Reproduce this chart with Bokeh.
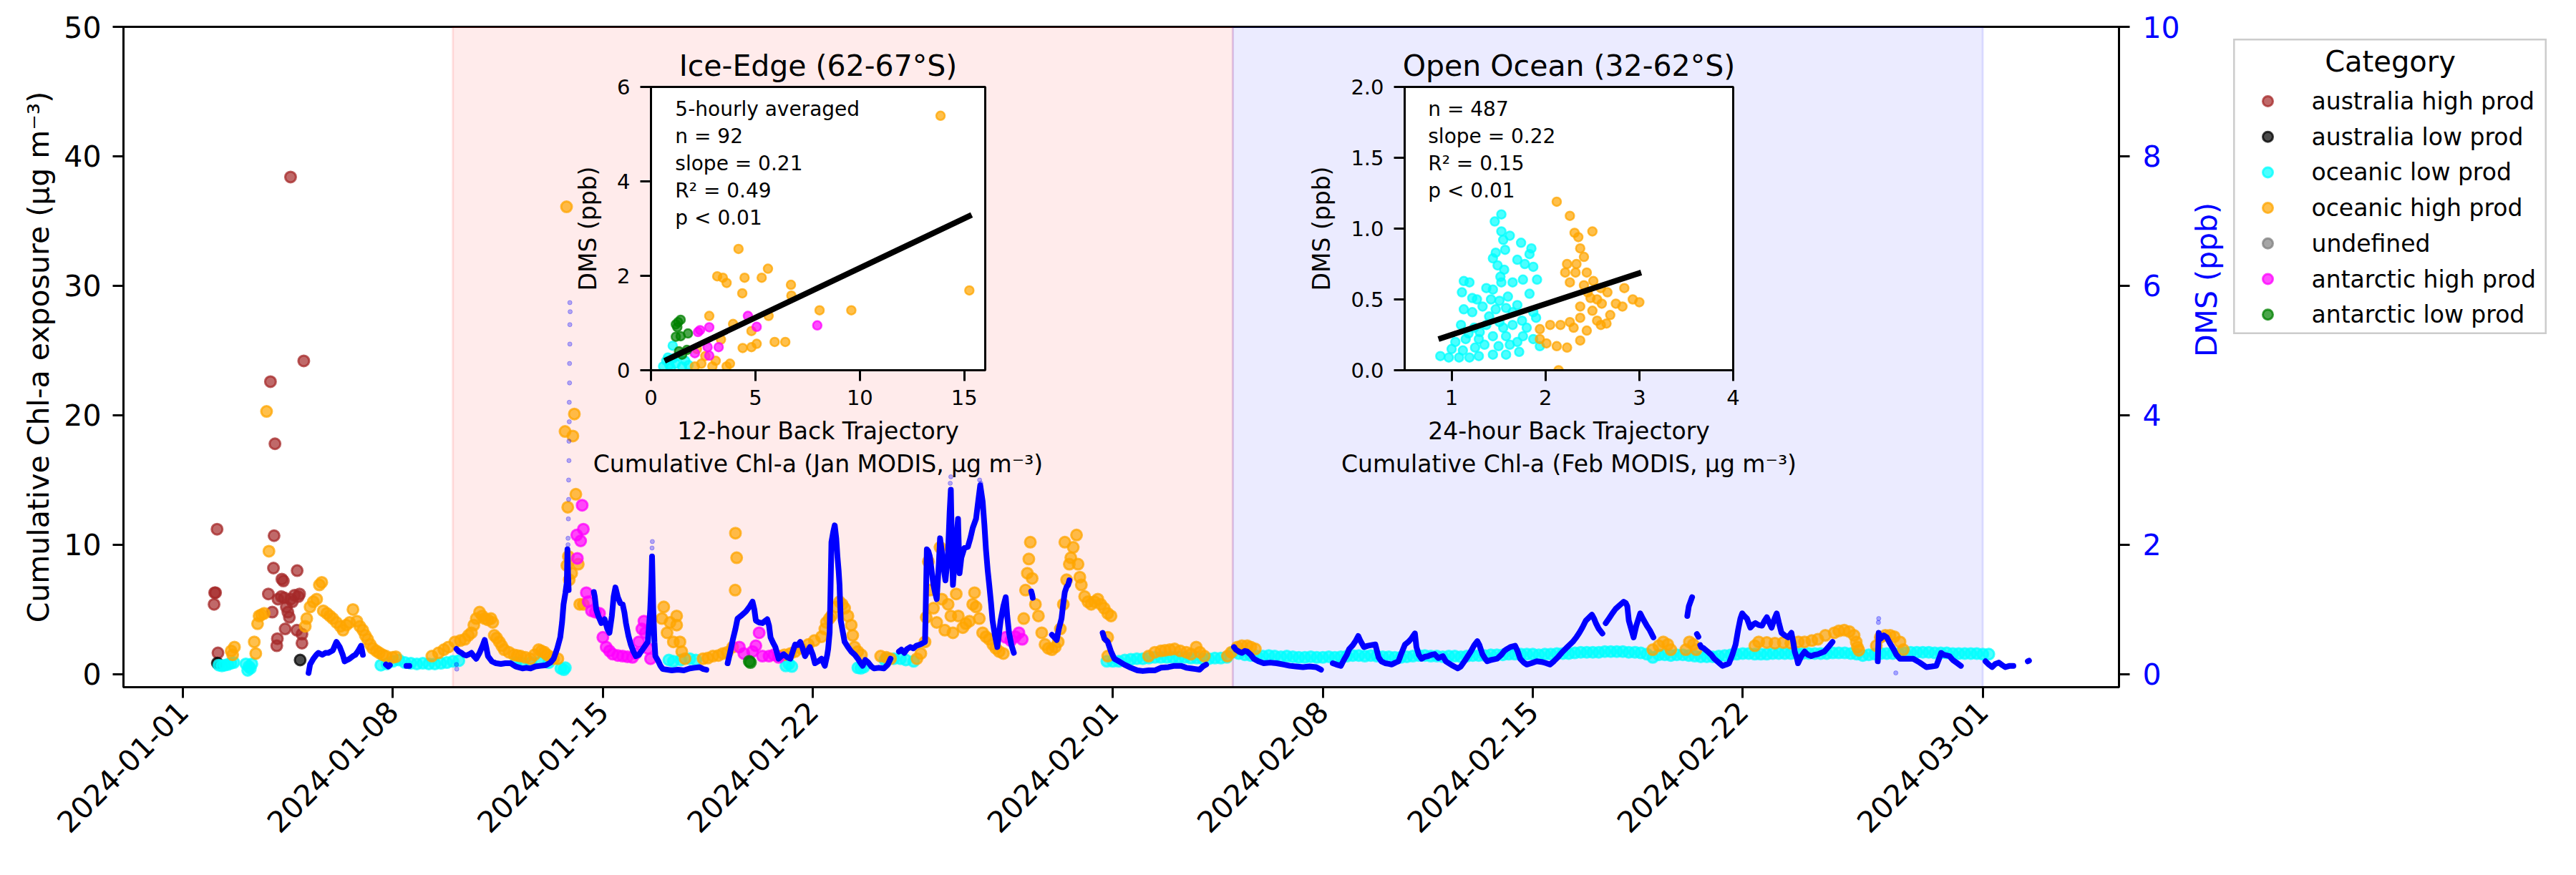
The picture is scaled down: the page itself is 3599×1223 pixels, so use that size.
import math
import numpy as np
import pandas as pd
from bokeh.plotting import figure
from bokeh.core.properties import value
from bokeh.models import (Range1d, LinearAxis, FixedTicker, DatetimeTickFormatter,
                          BoxAnnotation, GridBox, Label, NumeralTickFormatter)
from bokeh.embed import file_html
from bokeh.resources import INLINE

FONT = "DejaVu Sans"
START = "2024-01-01"

# ---------------- data ----------------
tick_dates = ["2024-01-01", "2024-01-08", "2024-01-15", "2024-01-22", "2024-02-01",
              "2024-02-08", "2024-02-15", "2024-02-22", "2024-03-01"]
chl_ticks = [0, 10, 20, 30, 40, 50]
dms_ticks = [0, 2, 4, 6, 8, 10]

region_names = ["Ice-Edge (62-67°S)", "Open Ocean (32-62°S)"]
region_start = ["2024-01-10", "2024-02-05"]
region_end = ["2024-02-05", "2024-03-01"]
region_colors = ["red", "blue"]

categories = ["australia high prod", "australia low prod", "oceanic low prod",
              "oceanic high prod", "undefined", "antarctic high prod", "antarctic low prod"]
cat_colors = ["brown", "black", "cyan", "orange", "gray", "magenta", "green"]

# days since 2024-01-01 00:00 ; cumulative Chl-a exposure (ug m-3)
aus_high_day = [1.04, 1.06, 1.09, 1.14, 1.17, 2.85, 2.92, 2.98, 3.02, 3.04, 3.07, 3.13, 3.15, 3.17,
                3.28, 3.30, 3.35, 3.38, 3.41, 3.45, 3.50, 3.55, 3.59, 3.60, 3.65, 3.72, 3.80, 3.81,
                3.85, 3.89, 3.97, 3.97, 4.03]
aus_high_chl = [5.4, 6.3, 6.3, 11.2, 1.65, 6.2, 22.6, 4.8, 8.2, 10.7, 17.8, 2.2, 2.75, 5.8,
                6.0, 7.35, 7.2, 5.9, 3.5, 5.2, 4.8, 4.4, 38.4, 5.8, 5.6, 6.1, 3.4, 8.0,
                6.0, 6.2, 3.1, 2.4, 24.2]
aus_low_day = [1.15, 3.91]
aus_low_chl = [0.86, 1.1]
oce_low_day = [1.2, 1.3, 1.4, 1.5, 1.6, 1.7, 2.1, 2.16, 2.2, 2.25, 2.3,
               11.1, 11.3, 11.6, 11.9, 12.2, 12.6, 12.7, 12.75,
               16.2, 16.35, 16.6, 16.9, 17.1, 20.1, 20.2, 20.3, 22.5, 22.6, 22.7,
               23.4, 23.48, 23.7, 23.92, 24.1, 24.36]
oce_low_chl = [0.7, 0.65, 0.7, 0.75, 0.85, 0.9, 0.8, 0.3, 0.6, 0.45, 0.8,
               0.9, 0.85, 0.9, 0.95, 0.9, 0.45, 0.35, 0.5,
               1.1, 1.0, 1.1, 1.2, 1.1, 0.64, 0.8, 0.6, 0.5, 0.46, 0.55,
               1.1, 1.2, 1.2, 1.2, 1.1, 1.0]
# continuous oceanic-low-prod stretches, sampled every 0.2 day from the given start day
oce_low_run1_start = 6.6
oce_low_run1_chl = [0.7, 0.8, 1.0, 1.1, 0.9, 0.85, 0.8, 0.85, 0.8, 0.8, 0.85, 0.9, 1.0, 1.05]
oce_low_run2_start = 30.8
oce_low_run2_chl = [1.0, 1.0, 1.0, 1.1, 1.15, 1.2, 1.2, 1.25, 1.3, 1.3, 1.3, 1.3, 1.3, 1.3, 1.25, 1.25,
                    1.2, 1.2, 1.25, 1.25, 1.3, 1.7, 1.6, 1.5, 1.45, 1.4, 1.4, 1.45, 1.4, 1.35,
                    1.4, 1.35, 1.3, 1.3, 1.35, 1.3, 1.3, 1.35, 1.3, 1.35, 1.4, 1.45, 1.45, 1.4,
                    1.45, 1.4, 1.35, 1.35, 1.3, 1.3, 1.35, 1.4, 1.45, 1.45, 1.4, 1.4, 1.35, 1.4,
                    1.4, 1.35, 1.4, 1.45, 1.45, 1.45, 1.5, 1.5, 1.5, 1.55, 1.55, 1.55, 1.55, 1.55,
                    1.5, 1.55, 1.55, 1.6, 1.6, 1.6, 1.65, 1.7, 1.7, 1.7, 1.7, 1.75, 1.75, 1.75,
                    1.75, 1.7, 1.7, 1.65, 1.55, 1.3, 1.5, 1.5, 1.45, 1.5, 1.5, 1.45, 1.4, 1.35,
                    1.35, 1.35, 1.4, 1.45, 1.5, 1.55, 1.6, 1.6, 1.55, 1.55, 1.55, 1.6, 1.6, 1.6,
                    1.6, 1.6, 1.6, 1.6, 1.6, 1.6, 1.6, 1.65, 1.65, 1.65, 1.6, 1.55, 1.45, 1.5,
                    1.55, 1.6, 1.6, 1.6, 1.6, 1.65, 1.7, 1.7, 1.7, 1.7, 1.65, 1.65, 1.65, 1.6,
                    1.6, 1.6, 1.6, 1.6, 1.55, 1.55]
oce_high_day = [1.61, 1.66, 1.72, 2.38, 2.43, 2.49, 2.54, 2.62, 2.71, 2.79, 2.87,
                4.08, 4.13, 4.24, 4.35, 4.46, 4.55, 4.63, 4.68, 4.8, 4.9, 5.0, 5.12, 5.25, 5.34,
                5.45, 5.56, 5.67, 5.8, 5.9, 6.0, 6.08, 6.16, 6.25, 6.33, 6.45, 6.55, 6.66, 6.77,
                6.99, 7.1,
                8.3, 8.52, 8.7, 8.85, 9.07, 9.25, 9.4, 9.52, 9.62, 9.7, 9.78, 9.89, 9.98, 10.06,
                10.17, 10.27, 10.33, 10.38, 10.46, 10.55, 10.63, 10.71, 10.87, 11.04, 11.15, 11.26,
                11.42, 11.59, 11.72, 11.86, 11.95, 12.05, 12.14, 12.25, 12.36, 12.5,
                12.74, 12.79, 12.8, 12.83, 12.85, 12.88, 12.96, 13.0, 13.05, 13.1, 13.18, 13.23, 13.35,
                15.97, 16.03, 16.14, 16.24, 16.35, 16.46, 16.46, 16.57, 16.63, 16.74,
                17.34, 17.5, 17.67, 17.85, 18.0, 18.15, 18.33, 18.41, 18.42, 18.46,
                19.86, 20.05, 20.25, 20.41, 20.6, 20.85, 21.05, 21.29, 21.4, 21.45, 21.55, 21.62,
                21.78, 21.89, 21.98, 22.06, 22.17, 22.28, 22.33, 22.39, 22.5, 22.62,
                23.26, 23.45, 23.59, 24.47, 24.6, 24.74, 24.78, 24.85, 24.9, 25.02, 25.13, 25.24,
                25.3, 25.4, 25.51, 25.6, 25.67, 25.78, 25.85, 26.0, 26.1, 26.22, 26.33, 26.39,
                26.44, 26.55, 26.66, 26.77, 26.88, 27.0, 27.1, 27.21, 27.35,
                28.03, 28.09, 28.15, 28.2, 28.25, 28.31, 28.42, 28.52, 28.63, 28.74, 28.85, 28.97,
                29.08, 29.18, 29.25, 29.35, 29.4, 29.46, 29.55, 29.6, 29.68, 29.79, 29.84, 29.9,
                29.95, 30.06, 30.17, 30.28, 30.39, 30.5, 30.6, 30.71, 30.83, 30.94, 30.83, 30.83,
                32.19, 32.4, 32.6, 32.74, 32.9, 33.06, 33.25, 33.45, 33.61, 33.78, 33.9, 34.05,
                34.82, 34.95, 35.15, 35.3, 35.48, 35.6, 35.75,
                49.0, 49.2, 49.35, 49.5, 49.6, 50.1, 50.22, 50.35, 50.45,
                52.4, 52.53, 52.8, 53.07, 53.35, 53.6, 53.85, 54.06, 54.3, 54.5, 54.75, 55.05,
                55.2, 55.38, 55.55, 55.71, 55.78, 55.82, 55.87,
                56.45, 56.58, 56.75, 56.91, 57.05, 57.24, 57.35]
oce_high_chl = [1.8, 1.5, 2.1, 2.5, 1.6, 3.9, 4.5, 4.6, 4.7, 20.3, 9.5,
                3.7, 4.3, 5.2, 5.6, 5.8, 6.9, 7.1, 4.9, 4.7, 4.5, 4.3, 4.0, 3.7, 3.4,
                3.8, 4.0, 5.0, 4.1, 3.7, 3.4, 3.0, 2.7, 2.3, 2.0, 1.8, 1.65, 1.5, 1.4,
                1.3, 1.35,
                1.4, 1.65, 1.9, 2.1, 2.5, 2.6, 2.7, 3.0, 3.2, 3.8, 4.3, 4.8, 4.5, 4.3,
                4.2, 4.3, 4.0, 3.0, 2.8, 2.5, 2.2, 1.9, 1.7, 1.5, 1.45, 1.4,
                1.3, 1.2, 1.5, 1.9, 1.8, 1.7, 1.5, 1.35, 1.2, 1.2,
                18.75, 36.1, 8.4, 12.9, 9.1, 7.3, 7.8, 18.4, 20.1, 13.9, 8.5, 5.4, 5.4,
                4.3, 5.2, 3.2, 4.0, 2.5, 4.5, 3.8, 2.5, 1.75, 1.2,
                1.2, 1.25, 1.4, 1.45, 1.6, 1.7, 2.1, 6.5, 10.9, 9.0,
                1.4, 1.5, 1.6, 1.75, 2.0, 2.3, 2.6, 2.9, 3.5, 4.0, 4.3, 4.5,
                5.2, 5.6, 5.4, 5.1, 4.5, 3.8, 3.0, 2.1, 1.75, 1.5,
                1.4, 1.3, 1.2, 1.2, 1.6, 2.5, 4.4, 8.7, 6.5, 5.1, 4.0, 9.8,
                5.8, 3.4, 5.4, 4.5, 3.2, 6.2, 4.5, 3.6, 3.9, 4.1, 5.4, 6.3,
                5.2, 4.3, 3.2, 2.9, 2.7, 2.3, 2.0, 1.75, 1.6,
                4.3, 6.5, 7.8, 8.9, 10.2, 7.4, 5.4, 4.5, 3.2, 2.3, 2.0, 1.9,
                2.1, 2.5, 3.5, 5.4, 10.2, 7.3, 8.5, 9.0, 9.8, 10.75, 8.5, 7.5,
                6.9, 6.0, 5.6, 5.4, 5.6, 5.8, 5.4, 5.1, 4.7, 4.5, 2.85, 1.4,
                1.4, 1.7, 1.8, 1.85, 1.9, 1.95, 1.8, 1.7, 1.55, 2.1, 1.7, 1.4,
                1.4, 1.7, 2.1, 2.2, 2.2, 2.1, 1.95,
                1.9, 2.2, 2.5, 2.3, 1.9, 1.9, 2.5, 2.3, 1.9,
                2.2, 2.5, 2.45, 2.4, 2.45, 2.4, 2.5, 2.5, 2.6, 2.7, 3.0, 3.2,
                3.35, 3.4, 3.3, 3.0, 2.5, 2.1, 1.85,
                2.2, 2.85, 3.0, 3.0, 2.9, 2.5, 1.9]
undef_day = []
undef_chl = []
ant_high_day = [13.13, 13.15, 13.26, 13.31, 13.35, 13.45, 13.51, 13.62, 13.75, 13.89, 14.0, 14.11,
                14.22, 14.33, 14.5, 14.66, 14.82, 14.99, 15.1, 15.2, 15.3, 15.37, 15.42, 15.5, 15.59,
                18.55, 18.7, 18.99, 19.1, 19.21, 19.32, 19.54, 19.7, 19.86,
                27.43, 27.6, 27.75, 27.87, 27.98]
ant_high_chl = [10.75, 8.95, 10.3, 13.05, 11.2, 6.3, 5.6, 4.9, 4.8, 4.7, 2.85, 2.1,
                1.8, 1.55, 1.45, 1.4, 1.35, 1.3, 1.6, 2.5, 3.5, 4.1, 3.2, 2.0, 1.2,
                2.1, 1.6, 1.75, 2.2, 3.2, 1.4, 1.4, 1.5, 1.3,
                2.85, 2.6, 2.9, 3.2, 2.7]
ant_low_day = [18.88, 18.92]
ant_low_chl = [1.0, 0.9]

# DMS (ppb); None marks a gap in the record
dms_day = [4.19, 4.24, 4.35, 4.45, 4.52, 4.65, 4.75, 4.85, 5.0, 5.12, 5.23, 5.33, 5.39, 5.48, 5.56,
           5.67, 5.75, 5.83, 5.94, 6.0, None,
           6.77, 6.85, 6.9, None, 7.45, 7.55, None,
           9.12, 9.2, 9.29, 9.37, 9.45, 9.55, 9.62, 9.7, 9.78, 9.89, 10.0, 10.06, 10.12, 10.17, 10.3,
           10.44, 10.6, 10.75, 10.93, 11.1, 11.32, 11.45, 11.59, 11.75, 11.92, 12.1, 12.25, 12.36,
           12.48, 12.58, 12.64, 12.69, 12.75, 12.8, 12.82, 12.84, 12.86, None,
           13.7, 13.73, 13.78, 13.85, 13.95, 14.06, 14.15, 14.22, 14.3, 14.36, 14.42, 14.5, 14.58,
           14.66, 14.72, 14.77, 14.85, 14.93, 15.02, 15.1, 15.2, 15.35, 15.5, 15.58, 15.62, 15.64,
           15.68, 15.72, 15.75, 15.85, 15.92, 16.0, 16.3, 16.5, 16.7, 16.9, 17.05, 17.23, 17.35,
           17.45, None,
           18.16, 18.25, 18.33, 18.42, 18.49, 18.6, 18.77, 18.9, 18.99, 19.05, 19.1, 19.2, 19.32,
           19.4, 19.48, 19.54, 19.59, 19.68, 19.75, 19.86, 19.95, 20.03, 20.15, 20.25, 20.33, 20.41,
           20.5, 20.58, 20.66, 20.74, 20.82, 20.9, 21.0, 21.07, 21.18, 21.29, 21.4, 21.48, 21.51,
           21.56, 21.59, 21.62, 21.68, 21.73, 21.78, 21.82, 21.86, 21.89, 21.91, 21.93, 22.0, 22.06,
           22.17, 22.28, 22.4, 22.5, 22.58, 22.66, 22.75, 22.85, 22.95, 23.04, 23.2, 23.37, 23.5,
           23.59, None,
           23.87, 23.95, 24.05, 24.14, 24.25, 24.35, 24.45, 24.58, 24.66, 24.74, 24.77, 24.8, 24.85,
           24.9, 24.96, 25.02, 25.08, 25.13, 25.2, 25.24, 25.3, 25.35, 25.42, 25.5, 25.56, 25.6,
           25.63, 25.67, 25.75, 25.84, 25.89, 25.95, 26.05, 26.17, 26.25, 26.33, 26.44, 26.52, 26.58,
           26.66, 26.72, 26.77, 26.83, 26.88, 26.94, 26.99, 27.07, 27.15, 27.2, 27.26, 27.35, 27.43,
           27.48, 27.54, 27.62, 27.7, None,
           28.28, 28.31, 28.33, None,
           28.97, 29.05, 29.13, 29.2, 29.29, 29.35, 29.4, 29.46, 29.51, 29.55, None,
           30.66, 30.72, 30.83, 30.94, 31.05, 31.2, 31.38, 31.6, 31.82, 32.0, 32.2, 32.41, 32.6,
           32.85, 33.05, 33.28, 33.45, 33.61, 33.75, 33.89, 34.0, 34.11, None,
           35.04, 35.1, 35.2, 35.3, 35.4, 35.48, 35.6, 35.7, 35.85, 36.03, 36.25, 36.46, 36.7, 36.9,
           37.1, 37.34, 37.55, 37.78, 37.94, None,
           38.33, 38.45, 38.6, 38.7, 38.8, 38.88, 39.0, 39.1, 39.18, 39.25, 39.37, 39.5, 39.62,
           39.75, 39.86, 39.95, 40.08, 40.2, 40.3, 40.42, 40.52, 40.6, 40.74, 40.85, 40.95, 41.07,
           41.12, 41.2, 41.29, 41.4, 41.51, 41.62, 41.73, 41.85, 42.0, 42.1, 42.3, 42.5, 42.6,
           42.75, 42.93, 43.05, 43.15, 43.22, 43.32, 43.4, 43.48, 43.6, 43.7, 43.81, 43.95, 44.05,
           44.14, 44.25, 44.41, 44.5, 44.58, 44.7, 44.8, 44.95, 45.13, 45.3, 45.45, 45.57, 45.7,
           45.85, 46.0, 46.15, 46.33, 46.45, 46.55, 46.65, 46.77, 46.88, 46.97, 47.05, 47.1, 47.2,
           47.32, None,
           47.43, 47.55, 47.65, 47.76, 47.88, 48.03, 48.1, 48.15, 48.2, 48.28, 48.36, 48.45, 48.58,
           48.68, 48.8, 48.9, 49.02, None,
           50.11, None, 50.15, 50.2, 50.31, None, 50.47, 50.52, None,
           50.58, 50.61, 50.7, 50.83, 50.95, 51.05, 51.2, 51.32, 51.45, 51.54, 51.65, 51.76, 51.85,
           51.92, 51.98, 52.05, 52.14, 52.25, 52.35, 52.42, 52.53, 52.64, 52.72, 52.8, 52.88, 52.96,
           53.05, 53.13, 53.2, 53.29, 53.4, 53.51, 53.62, 53.68, 53.73, 53.8, 53.84, 53.95, 54.06,
           54.17, 54.28, 54.39, 54.5, 54.61, 54.72, 54.85, 54.99, None,
           56.5, 56.53, 56.6, 56.7, 56.8, 56.9, 57.02, 57.12, 57.24, 57.45, 57.68, 57.9, 58.12,
           58.3, 58.45, 58.55, 58.61, 58.7, 58.8, 58.89, 59.0, 59.15, 59.27, None,
           60.09, 60.2, 60.31, 60.42, 60.53, 60.65, 60.75, 60.9, 61.02, None, 61.5, 61.54]
dms_ppb = [0.02, 0.15, 0.24, 0.3, 0.33, 0.3, 0.33, 0.33, 0.37, 0.5, 0.42, 0.3, 0.2, 0.22, 0.24,
           0.28, 0.3, 0.35, 0.44, 0.3, None,
           0.15, 0.12, 0.14, None, 0.13, 0.13, None,
           0.39, 0.35, 0.33, 0.3, 0.29, 0.31, 0.33, 0.28, 0.24, 0.33, 0.45, 0.53, 0.4, 0.28, 0.2,
           0.17, 0.16, 0.17, 0.17, 0.12, 0.09, 0.1, 0.09, 0.12, 0.13, 0.14, 0.18, 0.24,
           0.4, 0.57, 0.8, 1.08, 1.25, 1.42, 1.93, 1.55, 1.3, None,
           1.27, 1.2, 1.0, 0.9, 0.79, 0.85, 0.7, 0.64, 0.9, 1.2, 1.34, 1.19, 1.1,
           1.08, 0.95, 0.79, 0.6, 0.46, 0.35, 0.28, 0.3, 0.4, 0.5, 1.0, 1.45, 1.82,
           1.0, 0.5, 0.28, 0.2, 0.13, 0.08, 0.06, 0.07, 0.06, 0.09, 0.1, 0.11, 0.08,
           0.07, None,
           0.17, 0.35, 0.53, 0.7, 0.86, 0.9, 0.97, 1.05, 1.12, 1.0, 0.83, 0.8, 0.79,
           0.82, 0.85, 0.75, 0.57, 0.48, 0.42, 0.24, 0.28, 0.31, 0.26, 0.24, 0.35, 0.46,
           0.45, 0.5, 0.4, 0.28, 0.35, 0.42, 0.3, 0.17, 0.2, 0.24, 0.13, 0.3, 0.39,
           0.64, 1.3, 2.04, 2.2, 2.3, 2.1, 1.82, 1.6, 1.38, 1.1, 0.83, 0.65, 0.5,
           0.42, 0.35, 0.3, 0.24, 0.18, 0.13, 0.22, 0.18, 0.12, 0.09, 0.1, 0.09, 0.15,
           0.24, None,
           0.35, 0.38, 0.33, 0.39, 0.42, 0.4, 0.44, 0.46, 0.48, 0.5, 1.2, 1.93, 1.9,
           1.82, 1.6, 1.38, 1.25, 1.16, 1.7, 2.1, 1.9, 1.67, 1.45, 1.8, 2.5, 2.85,
           2.1, 1.38, 1.9, 2.4, 1.56, 1.8, 1.95, 1.97, 2.1, 2.26, 2.4, 2.7, 2.92,
           2.67, 2.3, 1.93, 1.6, 1.38, 1.1, 0.83, 0.6, 0.42, 0.6, 0.83, 1.05, 1.19,
           0.9, 0.64, 0.45, 0.33, None,
           1.28, 1.23, 1.18, None,
           0.61, 0.57, 0.53, 0.7, 0.86, 1.1, 1.27, 1.35, 1.38, 1.45, None,
           0.64, 0.55, 0.5, 0.35, 0.24, 0.2, 0.15, 0.1, 0.06, 0.05, 0.06, 0.06, 0.1,
           0.11, 0.13, 0.13, 0.1, 0.09, 0.08, 0.07, 0.12, 0.15, None,
           0.42, 0.38, 0.35, 0.33, 0.36, 0.35, 0.3, 0.24, 0.2, 0.17, 0.18, 0.17, 0.15, 0.13,
           0.12, 0.11, 0.12, 0.11, 0.07, None,
           0.17, 0.15, 0.13, 0.22, 0.3, 0.39, 0.45, 0.52, 0.59, 0.52, 0.42, 0.44, 0.45,
           0.46, 0.26, 0.2, 0.17, 0.16, 0.15, 0.18, 0.2, 0.3, 0.46, 0.5, 0.55, 0.63,
           0.42, 0.3, 0.24, 0.27, 0.28, 0.3, 0.31, 0.25, 0.28, 0.2, 0.14, 0.09, 0.12,
           0.22, 0.35, 0.45, 0.51, 0.45, 0.31, 0.25, 0.2, 0.22, 0.23, 0.24, 0.3, 0.36,
           0.39, 0.42, 0.44, 0.35, 0.24, 0.18, 0.15, 0.17, 0.2, 0.19, 0.17, 0.15, 0.2,
           0.27, 0.35, 0.42, 0.5, 0.57, 0.64, 0.72, 0.83, 0.88, 0.92, 0.85, 0.79, 0.7,
           0.63, None,
           0.79, 0.87, 0.94, 1.01, 1.06, 1.12, 1.1, 1.05, 0.83, 0.7, 0.57, 0.75, 0.94,
           0.85, 0.75, 0.68, 0.57, None,
           0.35, None, 0.9, 1.05, 1.19, None, 0.62, 0.58, None,
           0.45, 0.42, 0.4, 0.35, 0.3, 0.24, 0.18, 0.13, 0.15, 0.17, 0.3, 0.46, 0.7,
           0.86, 0.94, 0.9, 0.86, 0.72, 0.77, 0.79, 0.76, 0.75, 0.82, 0.88, 0.8, 0.72,
           0.85, 0.94, 0.8, 0.64, 0.6, 0.57, 0.64, 0.5, 0.35, 0.25, 0.17, 0.28, 0.35,
           0.3, 0.28, 0.3, 0.31, 0.33, 0.35, 0.42, 0.5, None,
           0.2, 0.64, 0.55, 0.6, 0.57, 0.48, 0.39, 0.3, 0.24, 0.24, 0.24, 0.18, 0.11,
           0.12, 0.13, 0.25, 0.33, 0.3, 0.29, 0.28, 0.22, 0.17, 0.13, None,
           0.2, 0.15, 0.11, 0.16, 0.18, 0.14, 0.11, 0.13, 0.13, None, 0.2, 0.21]
# sparse DMS readings during sharp spikes
dms_faint_day = [12.83, 12.84, 12.84, 12.85, 12.86, 12.86, 12.87, 12.87, 12.88, 12.88, 12.89, 12.89,
                 12.9, 12.9, 12.9, 12.91, 15.64, 15.65, 25.58, 25.6, 26.56, 26.6, 56.52, 56.53, 57.1,
                 9.12, 9.13]
dms_faint_ppb = [1.7, 2.0, 2.1, 2.4, 2.7, 3.0, 3.3, 3.6, 3.9, 4.2, 4.5, 4.8,
                 5.1, 5.4, 5.74, 5.6, 1.95, 2.05, 2.95, 3.05, 3.0, 2.95, 0.8, 0.86, 0.02,
                 0.15, 0.08]

# ---- inset 1: Ice-Edge, 12-h back trajectory Chl-a vs DMS ----
ie_cyan_x = [1.04, 0.81, 0.73, 0.88, 1.19, 1.49, 1.8, 0.58, 1.05, 1.64, 0.95, 1.3]
ie_cyan_y = [0.52, 0.27, 0.2, 0.11, 0.14, 0.08, 0.11, 0.08, 0.25, 0.2, 0.05, 0.3]
ie_orange_x = [13.86, 15.24, 4.19, 3.17, 3.44, 3.62, 4.48, 4.37, 5.3, 5.6, 6.7, 6.72, 8.07, 9.59,
               2.79, 3.93, 5.63, 4.81, 3.35, 5.92, 6.43, 4.39, 4.81, 5.06, 2.1, 3.78, 3.62, 2.94,
               2.41, 2.6, 3.1, 2.2]
ie_orange_y = [5.39, 1.69, 2.57, 1.99, 1.96, 1.85, 1.96, 1.63, 1.96, 2.15, 1.81, 1.58, 1.27, 1.27,
               1.15, 0.98, 1.15, 0.83, 0.65, 0.6, 0.6, 0.47, 0.49, 0.56, 0.08, 0.14, 0.08, 0.08,
               0.14, 0.3, 0.2, 0.45]
ie_magenta_x = [4.64, 5.06, 7.96, 2.25, 2.79, 2.35, 2.71, 3.24, 2.79, 2.1]
ie_magenta_y = [1.15, 0.92, 0.95, 0.81, 0.91, 0.85, 0.49, 0.49, 0.31, 0.36]
ie_green_x = [1.19, 1.42, 1.26, 1.77, 1.19, 1.42, 1.34, 1.72, 1.49, 1.3]
ie_green_y = [0.97, 1.07, 0.91, 0.78, 0.71, 0.72, 0.4, 0.43, 0.33, 1.02]
ie_fit_x = [0.65, 15.35]
ie_fit_y = [0.2, 3.29]
ie_stats = "5-hourly averaged\nn = 92\nslope = 0.21\nR² = 0.49\np < 0.01"

# ---- inset 2: Open Ocean, 24-h back trajectory Chl-a vs DMS ----
oo_cyan_x = [0.88, 0.97, 1.08, 1.19, 1.29, 1.44, 1.58, 1.72,
             1.04, 1.15, 1.29, 1.44, 1.58, 1.76, 1.87, 1.94,
             1.1, 1.24, 1.37, 1.51, 1.65, 1.8,
             1.13, 1.22, 1.33, 1.47, 1.58, 1.65, 1.87, 1.9,
             1.11, 1.13, 1.19, 1.22, 1.37, 1.44, 1.51,
             1.44, 1.47, 1.55, 1.53, 1.46, 1.53, 1.62, 1.56, 1.53, 1.65,
             1.74, 1.85, 1.78, 1.87, 1.76, 1.83, 1.91, 1.83,
             1.0, 1.12, 1.25, 1.35, 1.5, 1.62, 1.7, 1.4, 1.55, 1.3, 1.18, 1.6, 1.7, 1.75,
             1.52, 1.42, 1.27, 1.49, 1.57, 1.7]
oo_cyan_y = [0.1, 0.09, 0.09, 0.09, 0.1, 0.11, 0.11, 0.13,
             0.2, 0.22, 0.22, 0.24, 0.24, 0.24, 0.22, 0.17,
             0.32, 0.3, 0.32, 0.34, 0.32, 0.3,
             0.43, 0.41, 0.45, 0.43, 0.44, 0.41, 0.41, 0.37,
             0.55, 0.63, 0.62, 0.51, 0.58, 0.57, 0.49,
             0.79, 0.83, 0.92, 0.98, 1.05, 1.1, 0.95, 0.71, 0.62, 0.62,
             0.9, 0.86, 0.75, 0.73, 0.64, 0.54, 0.64, 0.82,
             0.15, 0.14, 0.16, 0.18, 0.17, 0.18, 0.2, 0.38, 0.3, 0.27, 0.26, 0.52, 0.46, 0.35,
             0.66, 0.5, 0.5, 0.74, 0.85, 0.78]
oo_orange_x = [2.12, 2.26, 2.5, 2.31, 2.35, 2.37, 2.41, 2.23, 2.33, 2.21, 2.32, 2.44, 2.26, 2.41,
               2.51, 2.59, 2.66, 2.84, 2.48, 2.6, 2.75, 2.82, 2.93, 3.0, 2.37, 2.69, 2.5, 1.94,
               2.05, 2.16, 2.26, 2.37, 2.44, 2.59, 2.01, 2.12, 2.23, 2.37, 1.94, 2.14, 2.3, 2.55,
               2.65, 2.45, 2.55]
oo_orange_y = [1.19, 1.09, 0.98, 0.97, 0.94, 0.86, 0.8, 0.75, 0.75, 0.69, 0.69, 0.69, 0.62, 0.6,
               0.63, 0.58, 0.55, 0.58, 0.51, 0.47, 0.47, 0.45, 0.5, 0.48, 0.45, 0.39, 0.42, 0.29,
               0.32, 0.32, 0.34, 0.37, 0.28, 0.32, 0.19, 0.17, 0.16, 0.21, 0.22, 0.0, 0.3, 0.35,
               0.33, 0.55, 0.5]
oo_fit_x = [0.86, 3.02]
oo_fit_y = [0.22, 0.69]
oo_stats = "n = 487\nslope = 0.22\nR² = 0.15\np < 0.01"

# ---------------- helpers ----------------
T0_MS = pd.Timestamp(START).value // 10**6
DAY_MS = 86400000.0
RUN_STEP_DAYS = 0.2


def ms_days(days):
    return T0_MS + np.array(days, dtype=float) * DAY_MS


def ms_date(s):
    return pd.Timestamp(s).value // 10**6


def run_days(start, values):
    return [start + RUN_STEP_DAYS * i for i in range(len(values))]


def style_axis(ax, tick_px, label_px, color="black", standoff=15, label_standoff=15):
    ax.axis_line_width = 3
    ax.axis_line_color = "black"
    ax.major_tick_line_width = 3
    ax.major_tick_line_color = "black"
    ax.major_tick_out = 15
    ax.major_tick_in = 0
    ax.minor_tick_line_color = None
    ax.major_label_text_font = FONT
    ax.major_label_text_font_size = f"{tick_px}px"
    ax.major_label_text_color = color
    ax.major_label_standoff = standoff
    ax.axis_label_text_font = FONT
    ax.axis_label_text_font_size = f"{label_px}px"
    ax.axis_label_text_font_style = "normal"
    ax.axis_label_text_color = color
    ax.axis_label_standoff = label_standoff


def dots(fig, x, y, color, size, lw=3, **kw):
    return fig.scatter(x, y, size=size, fill_color=color, line_color=color,
                       fill_alpha=0.7, line_alpha=0.75, line_width=lw, **kw)


# ---------------- main figure ----------------
W, H = 3583, 1207
p = figure(width=W, height=H, x_axis_type="datetime", output_backend="svg",
           toolbar_location=None,
           x_range=Range1d(ms_days(-1.98), ms_days(64.54)), y_range=Range1d(-1, 50),
           min_border_left=172, min_border_right=623, min_border_top=37, min_border_bottom=247)
p.background_fill_color = "white"
p.border_fill_color = "white"
p.outline_line_color = "black"
p.outline_line_width = 3
p.grid.visible = False

for s, e, c in zip(region_start, region_end, region_colors):
    p.add_layout(BoxAnnotation(left=ms_date(s), right=ms_date(e), fill_color=c, fill_alpha=0.08,
                               line_color=c, line_alpha=0.1, line_width=3, level="underlay"))

p.extra_y_ranges = {"dms": Range1d(-0.2, 10)}

oce_low_all_day = (oce_low_day + run_days(oce_low_run1_start, oce_low_run1_chl)
                   + run_days(oce_low_run2_start, oce_low_run2_chl))
oce_low_all_chl = oce_low_chl + oce_low_run1_chl + oce_low_run2_chl

cat_data = [(aus_high_day, aus_high_chl), (aus_low_day, aus_low_chl),
            (oce_low_all_day, oce_low_all_chl), (oce_high_day, oce_high_chl),
            (undef_day, undef_chl), (ant_high_day, ant_high_chl), (ant_low_day, ant_low_chl)]
for (d, v), c in zip(cat_data, cat_colors):
    dots(p, ms_days(d), np.array(v, dtype=float), c, 15)

p.line(ms_days(dms_day), np.array(dms_ppb, dtype=float), y_range_name="dms",
       line_color="blue", line_width=8, line_join="round", line_cap="round")
p.scatter(ms_days(dms_faint_day), dms_faint_ppb, y_range_name="dms", size=6,
          fill_color="blue", line_color="blue", fill_alpha=0.3, line_alpha=0.3)

p.xaxis.ticker = FixedTicker(ticks=[ms_date(d) for d in tick_dates])
fmt = "%Y-%m-%d"
p.xaxis.formatter = DatetimeTickFormatter(milliseconds=fmt, seconds=fmt, minsec=fmt, minutes=fmt,
                                          hourmin=fmt, hours=fmt, days=fmt, months=fmt, years=fmt)
p.xaxis.major_label_orientation = math.pi / 4
style_axis(p.xaxis[0], 41, 41, standoff=12)

p.yaxis.ticker = FixedTicker(ticks=chl_ticks)
p.yaxis.axis_label = "Cumulative Chl-a exposure (μg m⁻³)"
style_axis(p.yaxis[0], 41, 41, standoff=16, label_standoff=8)

ax2 = LinearAxis(y_range_name="dms", axis_label="DMS (ppb)", ticker=FixedTicker(ticks=dms_ticks))
style_axis(ax2, 41, 41, color="blue", standoff=18, label_standoff=34)
ax2.axis_line_color = "black"
try:
    ax2.axis_label_orientation = math.pi / 2
except AttributeError:
    pass
p.add_layout(ax2, "right")

# ---------------- legend box (overlaid panel) ----------------
LEG_W, LEG_H = 438, 413
leg = figure(width=LEG_W, height=LEG_H, x_range=Range1d(0, LEG_W), y_range=Range1d(LEG_H, 0),
             output_backend="svg", toolbar_location=None, x_axis_location=None,
             y_axis_location=None, min_border=0)
leg.grid.visible = False
leg.outline_line_color = "#cccccc"
leg.outline_line_width = 4
leg.background_fill_color = "white"
leg.border_fill_color = None
n_cat = len(categories)
row_y = [87 + 49.7 * i for i in range(n_cat)]
leg.scatter([48] * n_cat, row_y, size=14, fill_color=cat_colors, line_color=cat_colors,
            fill_alpha=0.7, line_alpha=0.75, line_width=3)
leg.text([109] * n_cat, row_y, text=categories, text_font=value(FONT), text_font_size="33px",
         text_baseline="middle", text_align="left", text_color="black")
leg.text([LEG_W / 2], [31], text=["Category"], text_font=value(FONT), text_font_size="40px",
         text_baseline="middle", text_align="center", text_color="black")


# ---------------- insets ----------------
def make_inset(title, xr, yr, xticks, yticks, xlabel, stats, sx, sy, yfmt=None):
    f = figure(width=697, height=641, x_range=Range1d(*xr), y_range=Range1d(*yr),
               output_backend="svg", toolbar_location=None, title=title,
               min_border_left=130, min_border_right=100, min_border_top=75, min_border_bottom=170)
    f.border_fill_color = None
    f.background_fill_color = "white"
    f.outline_line_color = "black"
    f.outline_line_width = 3
    f.grid.visible = False
    f.title.text_font = FONT
    f.title.text_font_size = "41px"
    f.title.text_font_style = "normal"
    f.title.text_color = "black"
    f.title.align = "center"
    f.title.standoff = 12
    f.xaxis.ticker = FixedTicker(ticks=xticks)
    f.yaxis.ticker = FixedTicker(ticks=yticks)
    if yfmt:
        f.yaxis.formatter = NumeralTickFormatter(format=yfmt)
    f.xaxis.axis_label = xlabel
    f.yaxis.axis_label = "DMS (ppb)"
    style_axis(f.xaxis[0], 29, 33, standoff=12, label_standoff=14)
    style_axis(f.yaxis[0], 29, 33, standoff=14, label_standoff=18)
    f.add_layout(Label(x=sx, y=sy, text=stats, text_font=FONT, text_font_size="28px",
                       text_color="black", text_baseline="top", text_align="left",
                       text_line_height=1.15))
    return f


ins1 = make_inset(region_names[0], (0, 16), (0, 6), [0, 5, 10, 15], [0, 2, 4, 6],
                  "12-hour Back Trajectory\nCumulative Chl-a (Jan MODIS, μg m⁻³)",
                  ie_stats, 1.16, 5.78)
for (x, y), c in zip([(ie_cyan_x, ie_cyan_y), (ie_orange_x, ie_orange_y),
                      (ie_magenta_x, ie_magenta_y), (ie_green_x, ie_green_y)],
                     ["cyan", "orange", "magenta", "green"]):
    dots(ins1, x, y, c, 12, lw=2.5)
ins1.line(ie_fit_x, ie_fit_y, line_color="black", line_width=8)

ins2 = make_inset(region_names[1], (0.5, 4.0), (0, 2), [1, 2, 3, 4], [0, 0.5, 1.0, 1.5, 2.0],
                  "24-hour Back Trajectory\nCumulative Chl-a (Feb MODIS, μg m⁻³)",
                  oo_stats, 0.75, 1.925, yfmt="0.0")
for (x, y), c in zip([(oo_cyan_x, oo_cyan_y), (oo_orange_x, oo_orange_y)], ["cyan", "orange"]):
    dots(ins2, x, y, c, 12, lw=2.5)
ins2.line(oo_fit_x, oo_fit_y, line_color="black", line_width=8)

layout = GridBox(children=[(p, 0, 0, 5, 7), (ins1, 1, 1, 3, 1), (ins2, 1, 3, 3, 1),
                           (leg, 2, 5, 1, 1)],
                 rows=["46px", "8px", "413px", "220px", "520px"],
                 cols=["779px", "697px", "348px", "697px", "599px", "438px", "25px"])

open("out.html", "w").write(file_html(layout, INLINE))
